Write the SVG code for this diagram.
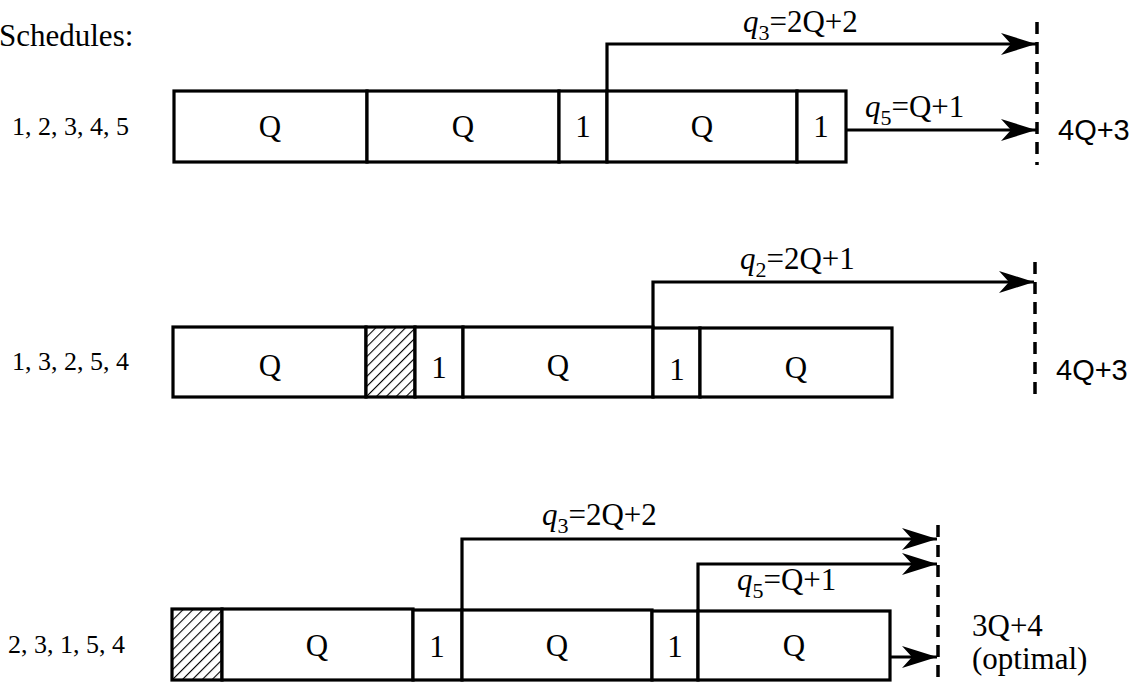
<svg xmlns="http://www.w3.org/2000/svg" width="1138" height="683" viewBox="0 0 1138 683">
<style>
.box{fill:#fff;stroke:#000;stroke-width:3.2}
.hatch{fill:url(#hatch);stroke:#000;stroke-width:3.2}
.t{font-family:"Liberation Serif","Times New Roman",serif;font-size:31px;fill:#000}
.lbl{font-family:"Liberation Serif","Times New Roman",serif;font-size:26px;fill:#000}
.ans{font-family:"Liberation Sans",Arial,sans-serif;font-size:29px;fill:#000}
.mid{text-anchor:middle}
.conn{fill:none;stroke:#000;stroke-width:3.2}
.dash{fill:none;stroke:#000;stroke-width:3.5;stroke-dasharray:12 8}
.q{font-style:italic}
</style>
<defs>
<pattern id="hatch" patternUnits="userSpaceOnUse" width="7" height="7" patternTransform="rotate(45)">
<rect width="7" height="7" fill="#fff"/>
<line x1="0" y1="0" x2="0" y2="7" stroke="#000" stroke-width="2.2"/>
</pattern>
<marker id="arr" markerUnits="userSpaceOnUse" viewBox="-36 -12 38 24" refX="0" refY="0" markerWidth="38" markerHeight="24" orient="auto">
<path d="M0,0 L-35,-11 L-25,0 L-35,11 Z" fill="#000"/>
</marker>
</defs>

<text class="t" x="-1" y="46">Schedules:</text>

<g id="row1">
<text class="lbl" x="12" y="135">1, 2, 3, 4, 5</text>
<g id="r1-b1"><rect class="box" x="174" y="91" width="193" height="71"/><text class="t mid" x="270" y="137">Q</text></g>
<g id="r1-b2"><rect class="box" x="367" y="91" width="192" height="71"/><text class="t mid" x="463" y="137">Q</text></g>
<g id="r1-b3"><rect class="box" x="559" y="91" width="48" height="71"/><text class="t mid" x="583" y="137">1</text></g>
<g id="r1-b4"><rect class="box" x="607" y="91" width="190" height="71"/><text class="t mid" x="702" y="137">Q</text></g>
<g id="r1-b5"><rect class="box" x="797" y="91" width="49" height="71"/><text class="t mid" x="821" y="137">1</text></g>
<text class="ans" x="1058" y="140">4Q+3</text>
</g>

<g id="row2">
<text class="lbl" x="12" y="370">1, 3, 2, 5, 4</text>
<g id="r2-b1"><rect class="box" x="173" y="327" width="193" height="70"/><text class="t mid" x="270" y="376">Q</text></g>
<g id="r2-h"><rect class="hatch" x="366" y="327" width="49" height="70"/></g>
<g id="r2-b2"><rect class="box" x="415" y="327" width="48" height="70"/><text class="t mid" x="439" y="378">1</text></g>
<g id="r2-b3"><rect class="box" x="463" y="327" width="190" height="70"/><text class="t mid" x="558" y="376">Q</text></g>
<g id="r2-b4"><rect class="box" x="653" y="328" width="47" height="69"/><text class="t mid" x="677" y="380">1</text></g>
<g id="r2-b5"><rect class="box" x="700" y="328" width="192" height="69"/><text class="t mid" x="796" y="378">Q</text></g>
<text class="ans" x="1056" y="380">4Q+3</text>
</g>

<g id="row3">
<text class="lbl" x="8" y="653">2, 3, 1, 5, 4</text>
<g id="r3-h"><rect class="hatch" x="172" y="609" width="50" height="71"/></g>
<g id="r3-b1"><rect class="box" x="222" y="609" width="191" height="71"/><text class="t mid" x="317" y="656">Q</text></g>
<g id="r3-b2"><rect class="box" x="413" y="610" width="49" height="70"/><text class="t mid" x="437" y="657">1</text></g>
<g id="r3-b3"><rect class="box" x="462" y="610" width="190" height="70"/><text class="t mid" x="557" y="656">Q</text></g>
<g id="r3-b4"><rect class="box" x="652" y="611" width="46" height="69"/><text class="t mid" x="675" y="657">1</text></g>
<g id="r3-b5"><rect class="box" x="698" y="611" width="192" height="69"/><text class="t mid" x="794" y="656">Q</text></g>
<text class="t" x="972" y="636">3Q+4</text>
<text class="t" x="972" y="669">(optimal)</text>
</g>

<g id="connectors">
<line class="dash" x1="1037" y1="22" x2="1037" y2="165"/>
<line class="dash" x1="1035" y1="262" x2="1035" y2="400"/>
<line class="dash" x1="938" y1="525" x2="938" y2="683"/>
<polyline class="conn" points="607,91 607,44 1036,44" marker-end="url(#arr)"/>
<line class="conn" x1="846" y1="130" x2="1036" y2="130" marker-end="url(#arr)"/>
<polyline class="conn" points="653,327 653,282 1034,282" marker-end="url(#arr)"/>
<polyline class="conn" points="462,610 462,539 937,539" marker-end="url(#arr)"/>
<polyline class="conn" points="698,611 698,564 937,564" marker-end="url(#arr)"/>
<line class="conn" x1="890" y1="657" x2="937" y2="657" marker-end="url(#arr)"/>
</g>

<g id="labels">
<text class="t" x="743" y="32"><tspan class="q">q</tspan><tspan font-size="22" dy="8">3</tspan><tspan dy="-8">=2Q+2</tspan></text>
<text class="t" x="865" y="117"><tspan class="q">q</tspan><tspan font-size="22" dy="8">5</tspan><tspan dy="-8">=Q+1</tspan></text>
<text class="t" x="740" y="269"><tspan class="q">q</tspan><tspan font-size="22" dy="8">2</tspan><tspan dy="-8">=2Q+1</tspan></text>
<text class="t" x="542" y="525"><tspan class="q">q</tspan><tspan font-size="22" dy="8">3</tspan><tspan dy="-8">=2Q+2</tspan></text>
<text class="t" x="737" y="590"><tspan class="q">q</tspan><tspan font-size="22" dy="8">5</tspan><tspan dy="-8">=Q+1</tspan></text>
</g>
</svg>
